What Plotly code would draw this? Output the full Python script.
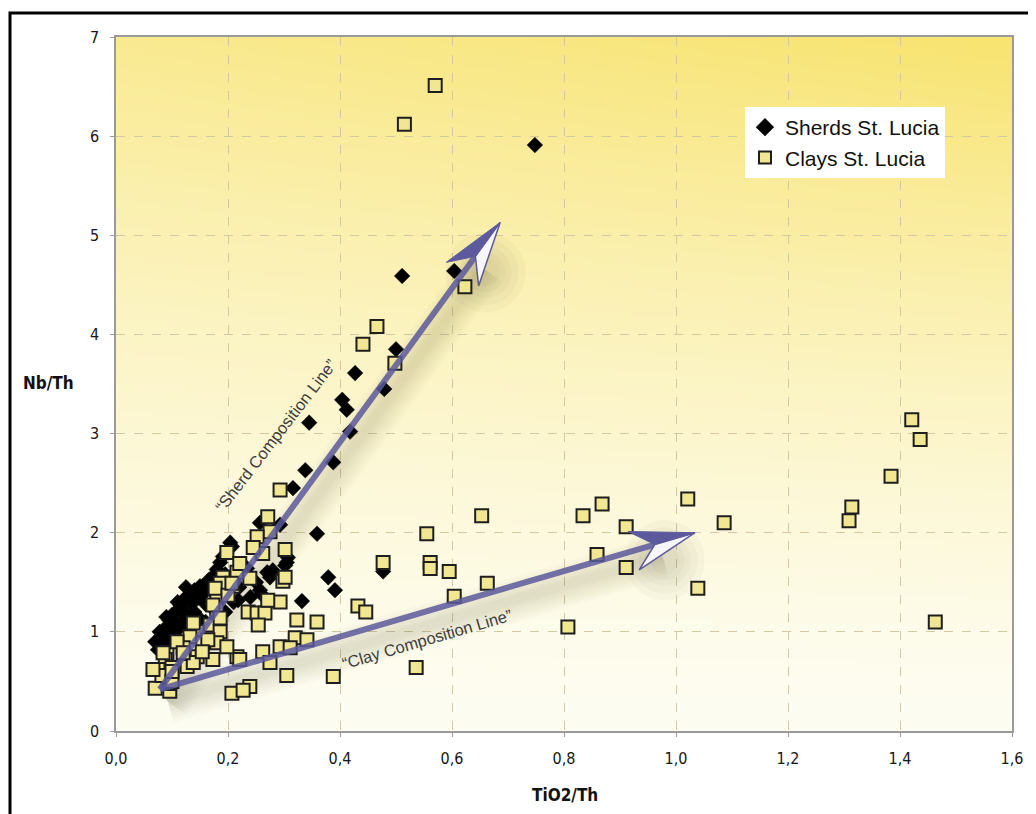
import numpy as np
import plotly.graph_objects as go
import zlib, struct, base64

# ---------------- data ----------------
sherd_x = [0.748, 0.511, 0.604, 0.500, 0.427, 0.479, 0.404, 0.412, 0.418, 0.345,
           0.388, 0.338, 0.316, 0.359, 0.379, 0.391, 0.332, 0.477, 0.293, 0.305,
           0.270, 0.257, 0.207, 0.191, 0.234, 0.218, 0.257, 0.307, 0.204, 0.186,
           0.302, 0.275,
           0.075, 0.080, 0.085, 0.090, 0.095, 0.100, 0.100, 0.105, 0.110, 0.110,
           0.115, 0.120, 0.120, 0.125, 0.130, 0.130, 0.135, 0.140, 0.140, 0.145,
           0.150, 0.150, 0.155, 0.160, 0.165, 0.170, 0.175, 0.180, 0.185, 0.195,
           0.210, 0.220, 0.230, 0.240, 0.250, 0.260, 0.280, 0.095, 0.085, 0.090,
           0.140, 0.160, 0.170, 0.210, 0.195, 0.110, 0.125, 0.115, 0.070, 0.078]
sherd_y = [5.91, 4.59, 4.64, 3.85, 3.61, 3.45, 3.34, 3.24, 3.02, 3.11,
           2.71, 2.63, 2.45, 1.99, 1.55, 1.42, 1.31, 1.61, 2.08, 1.70,
           1.60, 1.42, 1.86, 1.76, 1.64, 1.32, 2.10, 1.75, 1.90, 1.70,
           1.67, 1.55,
           0.82, 0.90, 0.97, 1.05, 1.12, 1.00, 1.17, 1.08, 1.22, 0.93,
           1.27, 1.12, 1.32, 1.18, 1.37, 1.03, 1.28, 1.42, 1.20, 1.34,
           1.46, 1.13, 1.38, 1.28, 1.52, 1.42, 1.57, 1.63, 1.48, 1.58,
           1.55, 1.45, 1.58, 1.35, 1.50, 1.38, 1.62, 0.88, 0.78, 1.15,
           1.00, 1.10, 1.25, 1.30, 1.20, 1.30, 1.45, 1.05, 0.90, 1.00]

clay_x = [0.570, 0.515, 0.623, 0.466, 0.441, 0.498, 0.293,
          1.421, 1.436, 1.384, 1.314, 1.309, 1.463, 1.086, 1.021,
          0.834, 0.868, 0.911, 0.859, 0.911, 0.807, 1.039,
          0.653, 0.555, 0.477, 0.561, 0.561, 0.595, 0.663, 0.604, 0.432, 0.446, 0.359,
          0.536, 0.388, 0.305,
          0.271, 0.275, 0.252, 0.262, 0.302, 0.191, 0.216, 0.239, 0.209, 0.298,
          0.180, 0.293, 0.236, 0.252, 0.266, 0.254, 0.323, 0.320, 0.341, 0.180,
          0.168, 0.186, 0.145, 0.132, 0.155, 0.180, 0.120, 0.145, 0.173, 0.216,
          0.221, 0.091, 0.088, 0.100, 0.075, 0.127, 0.138, 0.262, 0.275, 0.293,
          0.311, 0.207, 0.239, 0.227, 0.070, 0.096, 0.096, 0.082, 0.100, 0.164,
          0.198, 0.154, 0.173, 0.186, 0.198, 0.245, 0.302, 0.271, 0.221, 0.186,
          0.177, 0.138, 0.109, 0.200, 0.066, 0.100, 0.084, 0.120, 0.207]
clay_y = [6.51, 6.12, 4.48, 4.08, 3.90, 3.71, 2.43,
          3.14, 2.94, 2.57, 2.26, 2.12, 1.10, 2.10, 2.34,
          2.17, 2.29, 2.06, 1.78, 1.65, 1.05, 1.44,
          2.17, 1.99, 1.70, 1.70, 1.64, 1.61, 1.49, 1.36, 1.26, 1.20, 1.10,
          0.64, 0.55, 0.56,
          2.16, 2.01, 1.96, 1.79, 1.83, 1.55, 1.60, 1.54, 1.46, 1.51,
          1.37, 1.30, 1.20, 1.19, 1.19, 1.07, 1.12, 0.94, 0.92, 1.22,
          1.07, 1.00, 1.00, 0.95, 0.89, 0.89, 0.84, 0.75, 0.72, 0.75,
          0.72, 0.79, 0.72, 0.64, 0.62, 0.65, 0.69, 0.80, 0.69, 0.85,
          0.84, 0.38, 0.45, 0.41, 0.43, 0.40, 0.48, 0.56, 0.50, 0.92,
          0.85, 0.80, 1.27, 1.14, 1.80, 1.85, 1.55, 1.32, 1.69, 1.49,
          1.44, 1.09, 0.90, 1.37, 0.62, 0.60, 0.79, 0.79, 1.49]

x_ticks = [0.0, 0.2, 0.4, 0.6, 0.8, 1.0, 1.2, 1.4, 1.6]
y_ticks = [0, 1, 2, 3, 4, 5, 6, 7]

# composition lines (start, tip) in data units
sherd_line = [(0.078, 0.42), (0.686, 5.13)]
clay_line = [(0.078, 0.42), (1.034, 2.00)]
sherd_label = "\u201cSherd Composition Line\u201d"
clay_label = "\u201cClay Composition Line\u201d"

# ---------------- layout geometry ----------------
OFF = 8                       # page body margin
W, H = 1036 - OFF, 814 - OFF
PL, PR, PT, PB = 116, 1012, 37, 731   # plot area in window pixels
ML, MT = PL - OFF, PT - OFF
MR, MB = W - (PR - OFF), H - (PB - OFF)
PW, PH = PR - PL, PB - PT
XR, YR = (0.0, 1.6), (0.0, 7.0)


def to_px(x, y):
    return np.array([PL + (x - XR[0]) / (XR[1] - XR[0]) * PW,
                     PB - (y - YR[0]) / (YR[1] - YR[0]) * PH])


def to_data(p):
    return ((p[0] - PL) / PW * (XR[1] - XR[0]) + XR[0],
            (PB - p[1]) / PH * (YR[1] - YR[0]) + YR[0])


def paper_x(px):
    return (px - PL) / PW


def paper_y(py):
    return (PB - py) / PH


# ---------------- background gradient image ----------------
def gradient_png():
    h, w = 140, 100
    t = np.linspace(1, 0, h)[:, None]   # 1 at top
    u = np.linspace(0, 1, w)[None, :]
    f = (t ** 1.4) * (0.74 + 0.26 * u)
    cream = np.array([254, 253, 242], float)
    yellow = np.array([248, 228, 112], float)
    arr = cream + (yellow - cream) * f[..., None]
    arr = np.clip(arr, 0, 255).astype(np.uint8)
    raw = b"".join(b"\x00" + row.tobytes() for row in arr)

    def chunk(tag, data):
        return (struct.pack(">I", len(data)) + tag + data +
                struct.pack(">I", zlib.crc32(tag + data) & 0xffffffff))
    png = (b"\x89PNG\r\n\x1a\n" +
           chunk(b"IHDR", struct.pack(">IIBBBBB", w, h, 8, 2, 0, 0, 0)) +
           chunk(b"IDAT", zlib.compress(raw)) + chunk(b"IEND", b""))
    return "data:image/png;base64," + base64.b64encode(png).decode()


fig = go.Figure()

# ---------------- arrows ----------------
HEAD_L, HEAD_W, NOTCH = 64, 20, 42
SHADOW_OFF = np.array([8, 12])
ARROW_COL = "#5c5a9c"
SHADOW_RGB = "80,80,55"


def arrow_geom(line):
    p0 = to_px(*line[0])
    p1 = to_px(*line[1])
    d = (p1 - p0) / np.linalg.norm(p1 - p0)
    side = np.array([d[1], -d[0]])
    notch = p1 - d * NOTCH
    base = p1 - d * HEAD_L
    ba = base + side * HEAD_W
    bb = base - side * HEAD_W
    return p0, p1, notch, ba, bb


def add_shadow(line):
    p0, p1, notch, ba, bb = arrow_geom(line)
    xs, ys = zip(to_data(p0 + SHADOW_OFF), to_data(notch + SHADOW_OFF))
    for wdt in [44, 38, 32, 26, 20, 14, 9]:
        fig.add_trace(go.Scatter(x=xs, y=ys, mode="lines",
                                 line=dict(color=f"rgba({SHADOW_RGB},0.022)", width=wdt),
                                 hoverinfo="skip", showlegend=False))
    # soft round shadow under the head
    c = (p1 + ba + bb + notch) / 4 + SHADOW_OFF * 1.3
    cx, cy = to_data(c)
    for sz in [80, 66, 52, 40, 28]:
        fig.add_trace(go.Scatter(x=[cx], y=[cy], mode="markers",
                                 marker=dict(size=sz, color=f"rgba({SHADOW_RGB},0.035)",
                                             line=dict(width=0)),
                                 hoverinfo="skip", showlegend=False))


def add_arrow(line):
    p0, p1, notch, ba, bb = arrow_geom(line)
    xs, ys = zip(to_data(p0), to_data(notch))
    fig.add_trace(go.Scatter(x=xs, y=ys, mode="lines", opacity=0.85,
                             line=dict(color=ARROW_COL, width=6),
                             hoverinfo="skip", showlegend=False))
    wx, wy = zip(*[to_data(q) for q in (p1, notch, bb, p1)])
    fig.add_trace(go.Scatter(x=wx, y=wy, mode="lines", fill="toself",
                             fillcolor="#f6f6fb",
                             line=dict(color=ARROW_COL, width=1.5),
                             hoverinfo="skip", showlegend=False))
    bx, by = zip(*[to_data(q) for q in (p1, ba, notch, p1)])
    fig.add_trace(go.Scatter(x=bx, y=by, mode="lines", fill="toself",
                             fillcolor=ARROW_COL,
                             line=dict(color=ARROW_COL, width=1),
                             hoverinfo="skip", showlegend=False))


add_shadow(sherd_line)
add_shadow(clay_line)

# ---------------- data traces ----------------
fig.add_trace(go.Scatter(
    x=sherd_x, y=sherd_y, mode="markers", name="Sherds St. Lucia",
    marker=dict(symbol="diamond", size=12, color="#000000",
                line=dict(color="#000000", width=0.5))))
fig.add_trace(go.Scatter(
    x=clay_x, y=clay_y, mode="markers", name="Clays St. Lucia",
    marker=dict(symbol="square", size=13, color="#f1e793",
                line=dict(color="#1e1e1e", width=2))))

add_arrow(sherd_line)
add_arrow(clay_line)

# ---------------- layout ----------------
narrow = "Liberation Sans Narrow, Arial Narrow, DejaVu Sans Condensed, sans-serif"
tick_font = dict(family=narrow, size=16, color="#161616")
title_font = dict(family=narrow, size=17, color="#111111")

fig.update_layout(
    width=W, height=H,
    margin=dict(l=ML, r=MR, t=MT, b=MB),
    paper_bgcolor="white",
    plot_bgcolor="#fefdf3",
    separators=",.",
    showlegend=True,
    legend=dict(x=paper_x(745), y=paper_y(107), xanchor="left", yanchor="top",
                bgcolor="white", borderwidth=0,
                font=dict(family="Liberation Sans, Arial, sans-serif", size=21, color="#111"),
                itemsizing="constant"),
    images=[dict(source=gradient_png(), xref="x", yref="y", x=XR[0], y=YR[1],
                 sizex=XR[1] - XR[0], sizey=YR[1] - YR[0], sizing="stretch",
                 layer="below", xanchor="left", yanchor="top")],
)

fig.update_xaxes(range=list(XR), tickvals=x_ticks, tickformat=".1f",
                 showgrid=True, gridcolor="#d2c9a4", griddash="dash", gridwidth=1,
                 showline=True, linecolor="#9a9a9a", linewidth=1.5, mirror=True,
                 ticks="outside", ticklen=4, tickcolor="#9a9a9a",
                 ticklabelstandoff=8, tickfont=tick_font, zeroline=False)
fig.update_yaxes(range=list(YR), tickvals=y_ticks, tickformat="d",
                 showgrid=True, gridcolor="#d2c9a4", griddash="dash", gridwidth=1,
                 showline=True, linecolor="#9a9a9a", linewidth=1.5, mirror=True,
                 ticks="outside", ticklen=4, tickcolor="#9a9a9a",
                 ticklabelstandoff=8, tickfont=tick_font, zeroline=False)

# axis titles
fig.add_annotation(text="<b>Nb/Th</b>", xref="paper", yref="paper",
                   x=paper_x(48), y=paper_y(383), showarrow=False,
                   xanchor="center", yanchor="middle", font=title_font)
fig.add_annotation(text="<b>TiO2/Th</b>", xref="paper", yref="paper",
                   x=paper_x(565), y=paper_y(795), showarrow=False,
                   xanchor="center", yanchor="middle", font=title_font)

# composition line labels (angle from line direction)
lab_font = dict(family="Liberation Sans, Arial, sans-serif", size=16.5, color="#3c3c3c")


def line_angle(line):
    p0, p1 = to_px(*line[0]), to_px(*line[1])
    return float(np.degrees(np.arctan2(p1[1] - p0[1], p1[0] - p0[0])))


fig.add_annotation(text=sherd_label, x=0.284, y=2.98, showarrow=False,
                   textangle=line_angle(sherd_line) + 1.5, font=lab_font)
fig.add_annotation(text=clay_label, x=0.556, y=0.93, showarrow=False,
                   textangle=line_angle(clay_line), font=lab_font)

# outer frame
fig.add_shape(type="rect", xref="paper", yref="paper",
              x0=paper_x(10), x1=paper_x(1033),
              y0=paper_y(830), y1=paper_y(13),
              line=dict(color="black", width=3), fillcolor="rgba(0,0,0,0)", layer="above")

fig.write_html("out.html")
